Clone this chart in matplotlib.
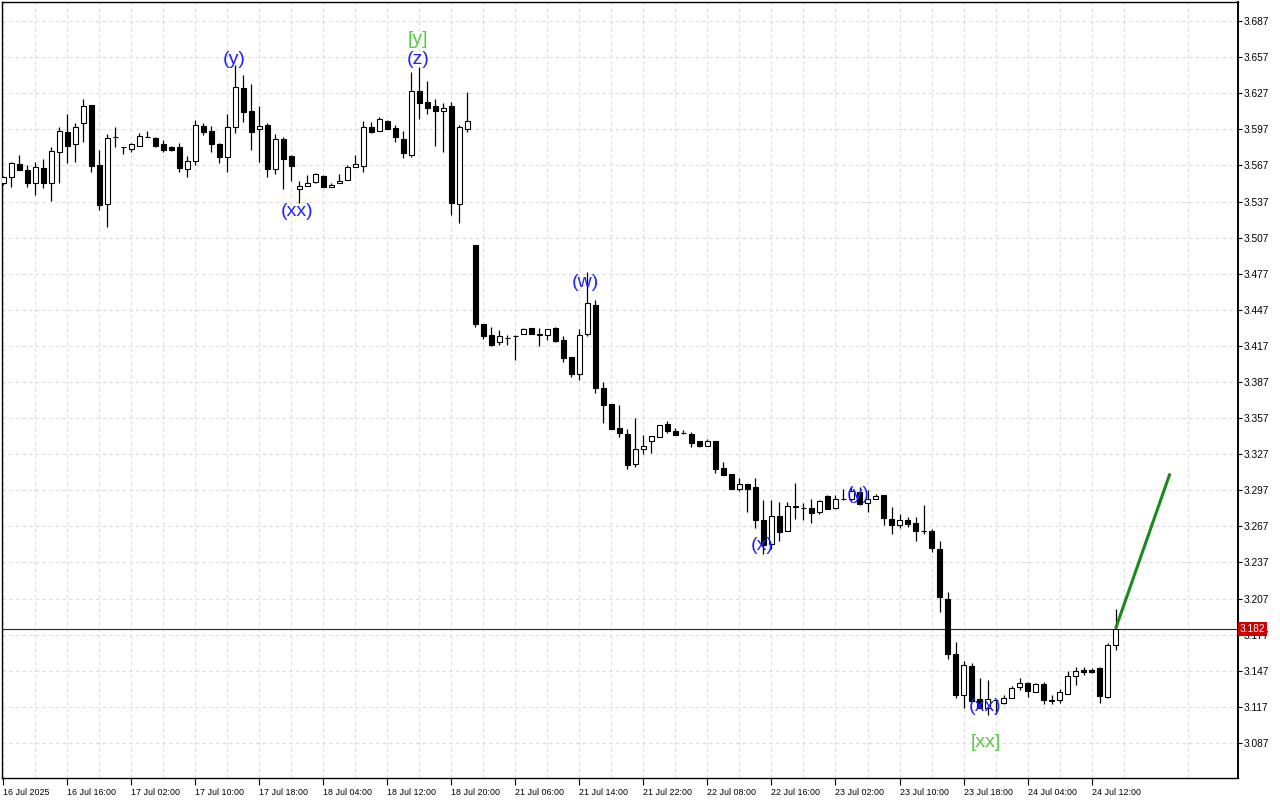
import matplotlib
matplotlib.use("Agg")
import matplotlib.pyplot as plt
import matplotlib.transforms as mtransforms
import numpy as np

plt.rcParams['font.family'] = ['Liberation Sans', 'DejaVu Sans']

# 2-hour candles (index 0 = 16 Jul 2025 00:00)
opens = [
    3.552, 3.5575, 3.5678, 3.563, 3.552, 3.5645, 3.552, 3.5778, 3.595, 3.5845,
    3.602, 3.6173, 3.5673, 3.5353, 3.5903, 3.582, 3.5803, 3.5834, 3.5903, 3.5895,
    3.5845, 3.582, 3.582, 3.5637, 3.5703, 3.5998, 3.5956, 3.5845, 3.5737, 3.5992,
    3.6312, 3.6123, 3.597, 3.6003, 3.5637, 3.5892, 3.5748, 3.5478, 3.550, 3.5534,
    3.5581, 3.5487, 3.552, 3.5548, 3.5653, 3.5667, 3.5987, 3.5953, 3.6039, 3.5978,
    3.589, 3.5753, 3.629, 3.6195, 3.6164, 3.6123, 3.6164, 3.5353, 3.597, 3.5006,
    3.4353, 3.4264, 3.4203, 3.4237, 3.4256, 3.4273, 3.432, 3.4267, 3.4262, 3.432,
    3.4223, 3.4075, 3.3937, 3.427, 3.4514, 3.382, 3.369, 3.3487, 3.344, 3.3189,
    3.3312, 3.3376, 3.3417, 3.352, 3.3464, 3.3448, 3.344, 3.3381, 3.3334, 3.3381,
    3.3153, 3.3106, 3.2978, 3.302, 3.2995, 3.2723, 3.2526, 3.2753, 3.2631, 3.2839,
    3.2823, 3.2826, 3.2789, 3.292, 3.2823, 3.2901, 3.2895, 3.2956, 3.2864, 3.2901,
    3.2928, 3.2734, 3.2684, 3.272, 3.2698, 3.2631, 3.2628, 3.2484, 3.2067, 3.1609,
    3.1267, 3.1512, 3.1239, 3.1164, 3.1228, 3.1206, 3.1242, 3.1339, 3.1367, 3.1295,
    3.1359, 3.1228, 3.1226, 3.1275, 3.1428, 3.1475, 3.1475, 3.1492, 3.1256, 3.1684,
]
highs = [
    3.558, 3.570, 3.5756, 3.567, 3.570, 3.572, 3.5826, 3.599, 3.6098, 3.6026,
    3.6223, 3.6175, 3.5798, 3.5931, 3.599, 3.582, 3.5853, 3.5937, 3.5956, 3.5903,
    3.5881, 3.5831, 3.5859, 3.5748, 3.6048, 3.6026, 3.600, 3.5859, 3.6095, 3.6504,
    3.6423, 3.6345, 3.6164, 3.602, 3.5931, 3.5909, 3.5756, 3.5539, 3.5589, 3.5603,
    3.5589, 3.552, 3.5598, 3.5673, 3.5756, 3.604, 3.6031, 3.607, 3.6048, 3.6006,
    3.5959, 3.645, 3.6484, 3.6373, 3.6223, 3.6192, 3.620, 3.6006, 3.6281, 3.5006,
    3.4353, 3.4328, 3.4306, 3.4264, 3.4262, 3.432, 3.432, 3.432, 3.4312, 3.4328,
    3.4251, 3.4075, 3.4314, 3.4784, 3.4548, 3.387, 3.369, 3.3681, 3.3478, 3.357,
    3.3431, 3.3423, 3.3514, 3.3542, 3.3487, 3.3473, 3.3451, 3.3381, 3.3398, 3.3381,
    3.3209, 3.3106, 3.307, 3.302, 3.307, 3.2892, 3.2892, 3.2873, 3.2873, 3.3031,
    3.2864, 3.2901, 3.2887, 3.2928, 3.2928, 3.2984, 3.2995, 3.2998, 3.2976, 3.2942,
    3.2934, 3.2831, 3.2776, 3.2748, 3.2748, 3.2845, 3.265, 3.2545, 3.2128, 3.1712,
    3.1553, 3.1531, 3.1409, 3.1392, 3.1234, 3.127, 3.1345, 3.1409, 3.1373, 3.1367,
    3.1373, 3.127, 3.1317, 3.147, 3.1503, 3.1498, 3.1492, 3.1498, 3.170, 3.1984,
]
lows = [
    3.551, 3.549, 3.563, 3.549, 3.5423, 3.548, 3.5375, 3.552, 3.569, 3.5698,
    3.5867, 3.5617, 3.5298, 3.5159, 3.5826, 3.5764, 3.5784, 3.5834, 3.5903, 3.5826,
    3.5784, 3.5792, 3.5612, 3.5575, 3.567, 3.5923, 3.5784, 3.5692, 3.5617, 3.5937,
    3.6034, 3.5798, 3.570, 3.5575, 3.5598, 3.5478, 3.5542, 3.5359, 3.550, 3.552,
    3.5487, 3.5487, 3.552, 3.5548, 3.5653, 3.5617, 3.5937, 3.5953, 3.597, 3.5867,
    3.5728, 3.5742, 3.6053, 3.6095, 3.5834, 3.5778, 3.5256, 3.5195, 3.595, 3.4326,
    3.4231, 3.4173, 3.4181, 3.4181, 3.4056, 3.4273, 3.427, 3.4173, 3.4217, 3.4203,
    3.4034, 3.3909, 3.3884, 3.4251, 3.3778, 3.3528, 3.3481, 3.3409, 3.3148, 3.3167,
    3.327, 3.3284, 3.3409, 3.3445, 3.3426, 3.3437, 3.3326, 3.3326, 3.3334, 3.3117,
    3.3098, 3.2981, 3.2967, 3.2792, 3.2653, 3.2442, 3.2484, 3.2548, 3.2631, 3.2734,
    3.2726, 3.2698, 3.2776, 3.2817, 3.2817, 3.2887, 3.288, 3.285, 3.279, 3.2895,
    3.2684, 3.2609, 3.2656, 3.2664, 3.2548, 3.2609, 3.2456, 3.1956, 3.1567, 3.1248,
    3.1164, 3.1214, 3.1164, 3.1103, 3.1109, 3.1192, 3.1242, 3.1312, 3.1256, 3.1295,
    3.1198, 3.1192, 3.12, 3.1275, 3.1351, 3.1437, 3.1448, 3.1206, 3.1248, 3.1642,
]
closes = [
    3.557, 3.5687, 3.5634, 3.552, 3.5653, 3.5525, 3.579, 3.5956, 3.5834, 3.5987,
    3.6164, 3.5667, 3.5345, 3.5895, 3.5903, 3.582, 3.5845, 3.5917, 3.5903, 3.5834,
    3.5798, 3.5798, 3.5645, 3.5706, 3.6003, 3.595, 3.5845, 3.5742, 3.5992, 3.632,
    3.6117, 3.595, 3.600, 3.5642, 3.589, 3.5726, 3.5667, 3.5503, 3.5525, 3.5598,
    3.5487, 3.5506, 3.5539, 3.5653, 3.5678, 3.5992, 3.5945, 3.6053, 3.5973, 3.5903,
    3.577, 3.6292, 3.6187, 3.6145, 3.6123, 3.6145, 3.5359, 3.5992, 3.6037, 3.4356,
    3.4251, 3.4181, 3.4256, 3.4237, 3.4256, 3.4314, 3.427, 3.4264, 3.4312, 3.4209,
    3.407, 3.3937, 3.4262, 3.4523, 3.382, 3.3676, 3.3481, 3.3445, 3.3181, 3.3312,
    3.3337, 3.3423, 3.3514, 3.3459, 3.3431, 3.3445, 3.3367, 3.3334, 3.3381, 3.3148,
    3.3098, 3.2981, 3.302, 3.2981, 3.2723, 3.2515, 3.2753, 3.2623, 3.2837, 3.2834,
    3.282, 3.2781, 3.2878, 3.2817, 3.2901, 3.2901, 3.296, 3.286, 3.2901, 3.292,
    3.2739, 3.2684, 3.272, 3.2692, 3.2631, 3.2628, 3.2492, 3.2081, 3.1609, 3.1267,
    3.152, 3.122, 3.1164, 3.1239, 3.1225, 3.1242, 3.1326, 3.1367, 3.1298, 3.1359,
    3.1226, 3.1222, 3.129, 3.1423, 3.147, 3.1456, 3.1462, 3.1262, 3.1684, 3.182,
]

# time axis labels, one every 8 bars
time_labels = ["16 Jul 2025", "16 Jul 16:00", "17 Jul 02:00", "17 Jul 10:00",
               "17 Jul 18:00", "18 Jul 04:00", "18 Jul 12:00", "18 Jul 20:00",
               "21 Jul 06:00", "21 Jul 14:00", "21 Jul 22:00", "22 Jul 08:00",
               "22 Jul 16:00", "23 Jul 02:00", "23 Jul 10:00", "23 Jul 18:00",
               "24 Jul 04:00", "24 Jul 12:00"]
price_ticks = [3.087 + 0.03 * k for k in range(21)]
last_price = 3.182

# wave labels: text, bar index, price, colour
wave_labels = [
    ("(y)", 28.8, 3.6546, "blue"),
    ("[y]", 51.8, 3.6720, "green"),
    ("(z)", 51.8, 3.6554, "blue"),
    ("(xx)", 36.7, 3.5290, "blue"),
    ("(w)", 72.8, 3.4693, "blue"),
    ("(x)", 94.8, 3.2515, "blue"),
    ("(y)", 106.8, 3.2931, "blue"),
    ("(xx)", 122.7, 3.1177, "blue"),
    ("[xx]", 122.8, 3.0878, "green"),
]
# projection line from the last close
proj_x = [139, 145.8]
proj_y = [3.182, 3.311]

label_colors = {"blue": "#2222ff", "green": "#55cc44"}

fig = plt.figure(figsize=(12.8, 8), dpi=100)
ax = fig.add_axes([2 / 1280, 22 / 800, 1236 / 1280, 776 / 800])

o = np.array(opens)
h = np.array(highs)
l = np.array(lows)
c = np.array(closes)
idx = np.arange(len(o))

# wicks and bodies
ax.vlines(idx, l, h, color="black", lw=0.9, zorder=3)
bottoms = np.minimum(o, c)
heights = np.abs(c - o)
faces = ["white" if cc >= oo else "black" for oo, cc in zip(o, c)]
ax.bar(idx, heights, width=0.6, bottom=bottoms, color=faces,
       edgecolor="black", linewidth=0.8, zorder=4)

# wave labels drawn over the candles
for txt, xb, yp, col in wave_labels:
    ax.text(xb, yp, txt, color=label_colors[col], fontsize=14,
            ha="center", va="center", zorder=6)

ax.plot(proj_x, proj_y, color="#1a8a1a", lw=2.2, zorder=5, solid_capstyle="butt")

# current price line + red tag on the scale
ax.axhline(last_price, color="#6b1010", lw=0.8, zorder=2.6)
trans = mtransforms.blended_transform_factory(ax.transAxes, ax.transData)
ax.text(1.0015, last_price, f"{last_price:.3f}", transform=trans, color="white",
        fontsize=7.3, ha="left", va="center", zorder=10, clip_on=False,
        bbox=dict(boxstyle="square,pad=0.2", fc="#cc0000", ec="none"))

ax.set_xlim(-0.16, 154.3)
ax.set_ylim(3.0579, 3.7028)

# axes and ticks
ax.yaxis.tick_right()
ax.set_yticks(price_ticks)
ax.set_yticklabels([f"{p:.3f}" for p in price_ticks])
ax.set_xticks(range(0, 8 * len(time_labels), 8))
ax.set_xticklabels(time_labels)
for lbl in ax.get_xticklabels():
    lbl.set_ha("left")
ax.set_xticks(range(4, 155, 8), minor=True)
ax.tick_params(axis="y", direction="out", length=3, pad=1, labelsize=7.3, width=0.8)
ax.tick_params(axis="x", which="major", direction="out", length=5, pad=2,
               labelsize=6.4, width=0.8)
ax.tick_params(axis="x", which="minor", length=0)

ax.grid(True, which="both", color="#dcdcdc", linestyle=(0, (3, 3)), lw=0.8)
ax.set_axisbelow(True)
for s in ax.spines.values():
    s.set_color("black")
    s.set_linewidth(1.0)
ax.spines["right"].set_linewidth(1.4)

fig.savefig("out.png", dpi=100)
